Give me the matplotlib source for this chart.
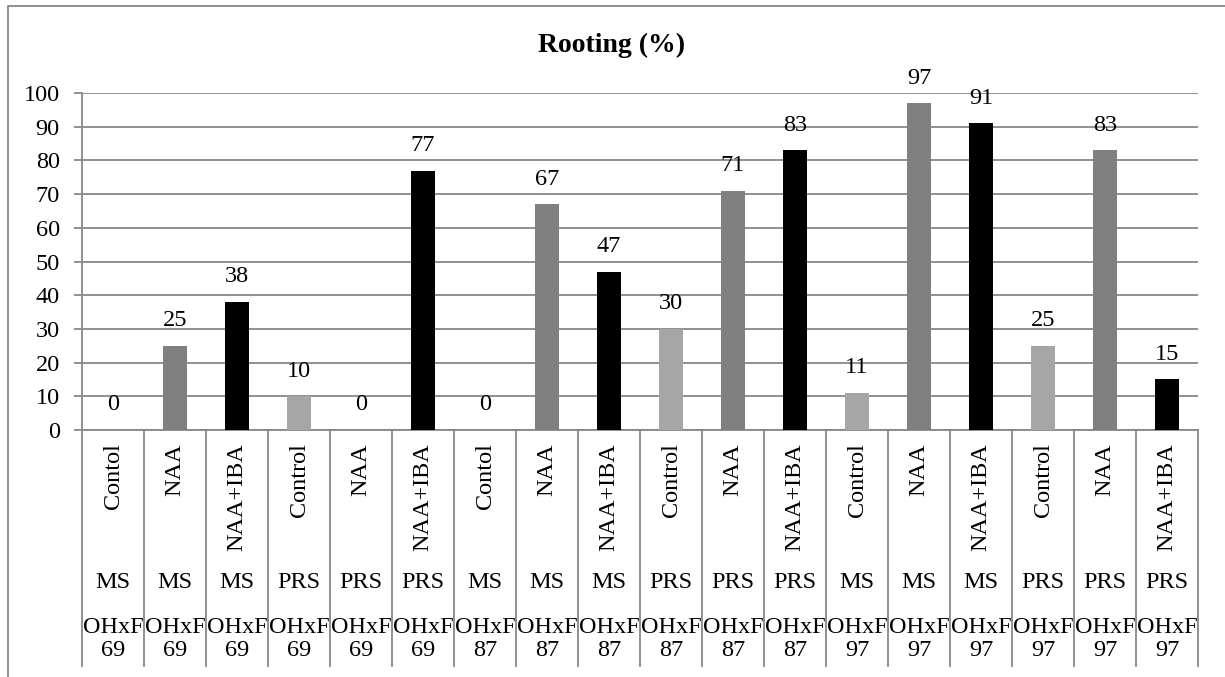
import matplotlib
matplotlib.use("Agg")
import matplotlib.pyplot as plt
from matplotlib.lines import Line2D

plt.rcParams['font.family'] = ['Liberation Serif', 'DejaVu Serif']

# treatment / medium / cross for each column, and rooting %
treatments = ["Contol", "NAA", "NAA+IBA", "Control", "NAA", "NAA+IBA",
              "Contol", "NAA", "NAA+IBA", "Control", "NAA", "NAA+IBA",
              "Control", "NAA", "NAA+IBA", "Control", "NAA", "NAA+IBA"]
media = ["MS", "MS", "MS", "PRS", "PRS", "PRS",
         "MS", "MS", "MS", "PRS", "PRS", "PRS",
         "MS", "MS", "MS", "PRS", "PRS", "PRS"]
crosses = ["OHxF\n69"] * 6 + ["OHxF\n87"] * 6 + ["OHxF\n97"] * 6
rooting = [0, 25, 38, 10, 0, 77, 0, 67, 47, 30, 71, 83, 11, 97, 91, 25, 83, 15]

colours = {"Contol": "#a6a6a6", "Control": "#a6a6a6", "NAA": "#808080", "NAA+IBA": "#000000"}
grey = "#888888"
fs = 17.5

W, H = 1225, 677
fig = plt.figure(figsize=(W / 100, H / 100), dpi=100)
x0, x1, ytop, ybot = 82, 1198, 93, 430
ax = fig.add_axes([x0 / W, 1 - ybot / H, (x1 - x0) / W, (ybot - ytop) / H])

n = len(rooting)
xs = list(range(n))
bars = ax.bar(xs, rooting, width=0.4, color=[colours[t] for t in treatments], zorder=3)
for b, v in zip(bars, rooting):
    ax.annotate(str(v), (b.get_x() + b.get_width() / 2, v), xytext=(0, 18),
                textcoords="offset points", ha="center", va="center", fontsize=fs)

ax.set_xlim(-0.5, n - 0.5)
ax.set_ylim(0, 100)
ax.set_yticks(range(0, 101, 10))
ax.tick_params(axis="y", length=6, width=1.3, color=grey, labelsize=fs, pad=10)
ax.set_xticks([])
ax.grid(axis="y", color=grey, linewidth=1.3, zorder=0)
for s in ["top", "right"]:
    ax.spines[s].set_visible(False)
for s in ["left", "bottom"]:
    ax.spines[s].set_color(grey)
    ax.spines[s].set_linewidth(1.3)

# multi-level category labels under the axis
tr = ax.get_xaxis_transform()
ph = ybot - ytop
for i in xs:
    ax.text(i, (ybot - 443) / ph, treatments[i], rotation=90, ha="center", va="top",
            fontsize=fs, transform=tr)
    ax.text(i, (ybot - 582) / ph, media[i], ha="center", va="center",
            fontsize=fs, transform=tr)
    ax.text(i, (ybot - 639) / ph, crosses[i], ha="center", va="center",
            fontsize=fs, linespacing=1.15, transform=tr)
for k in range(n + 1):
    ax.plot([k - 0.5, k - 0.5], [0, (ybot - 666) / ph], color=grey, lw=1.3,
            transform=tr, clip_on=False)

fig.text(612 / W, 1 - 45 / H, "Rooting (%)", ha="center", va="center",
         fontsize=20, fontweight="bold")

# chart area frame
fig.add_artist(Line2D([8 / W, 8 / W, 1.0], [0.0, 1 - 6 / H, 1 - 6 / H],
                      transform=fig.transFigure, color=grey, lw=1.3))

fig.savefig("out.png", dpi=100)
